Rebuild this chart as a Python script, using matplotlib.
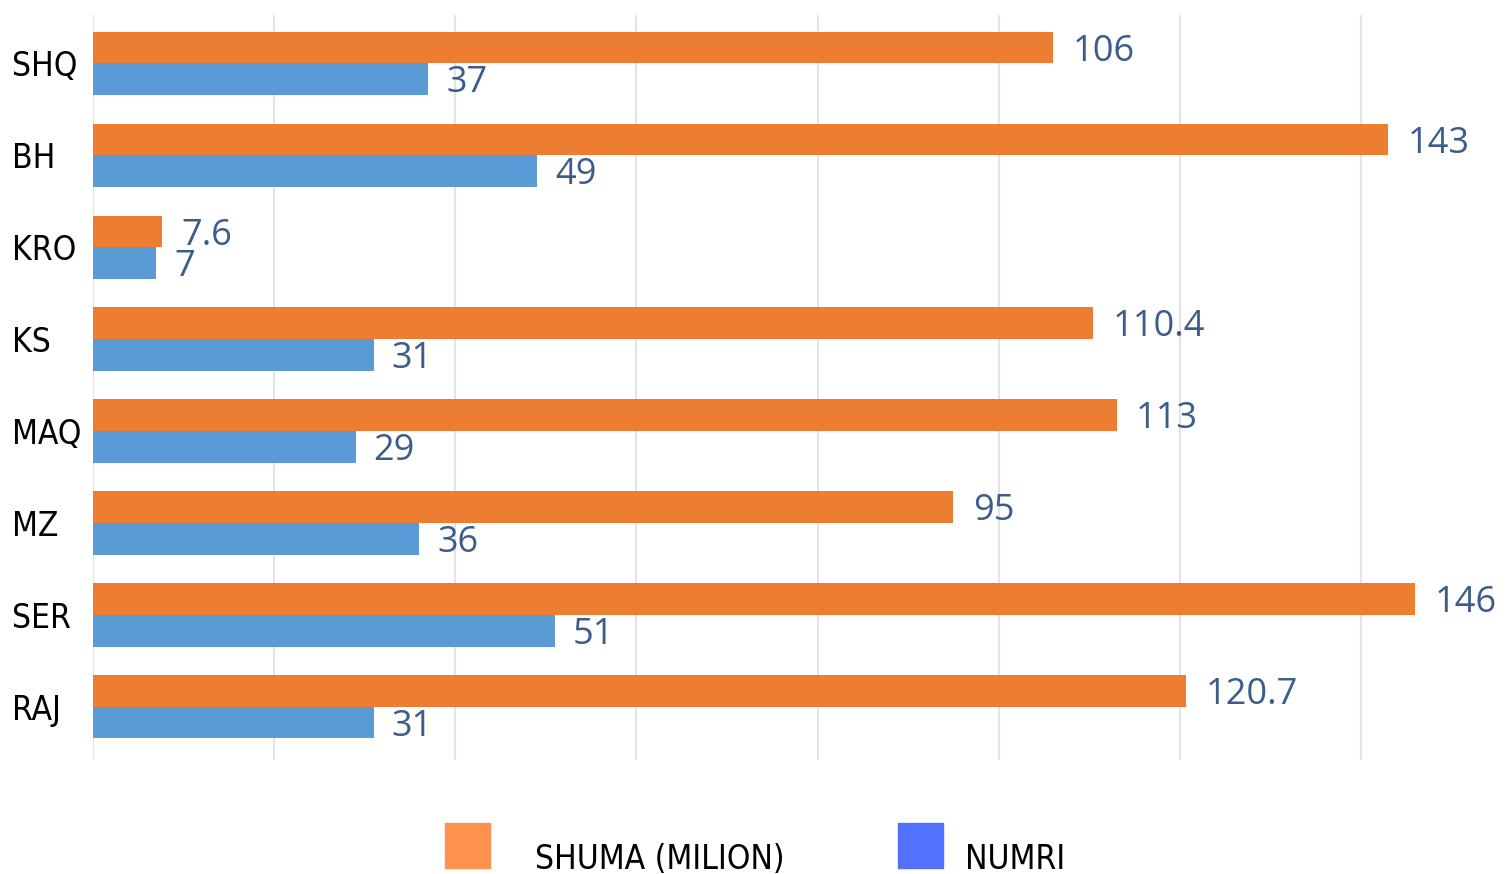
import numpy as np
import matplotlib.pyplot as plt
from matplotlib.patches import Rectangle

# data
regions = ['SHQ', 'BH', 'KRO', 'KS', 'MAQ', 'MZ', 'SER', 'RAJ']
shuma = [106, 143, 7.6, 110.4, 113, 95, 146, 120.7]
numri = [37, 49, 7, 31, 29, 36, 51, 31]
shuma_labels = ['106', '143', '7.6', '110.4', '113', '95', '146', '120.7']
numri_labels = ['37', '49', '7', '31', '29', '36', '51', '31']
legend_names = ['SHUMA (MILION)', 'NUMRI']

orange = '#ED7D31'
blue = '#5B9BD5'
lbl_color = '#3B5D8C'

W, H = 1506, 874
fig = plt.figure(figsize=(W / 100, H / 100), dpi=100)
ax = fig.add_axes([93 / W, 1 - 760 / H, 1 - 93 / W, 745 / H])

y = np.arange(len(regions))
h = 0.345
ax.barh(y - h / 2, shuma, height=h, color=orange)
ax.barh(y + h / 2, numri, height=h, color=blue)

# value labels
for yi, v, s in zip(y, shuma, shuma_labels):
    ax.annotate(s, (v, yi - h / 2), xytext=(14, -3), textcoords='offset points',
                va='center', ha='left', fontsize=26, color=lbl_color,
                family='Open Sans')
for yi, v, s in zip(y, numri, numri_labels):
    ax.annotate(s, (v, yi + h / 2), xytext=(13, -3), textcoords='offset points',
                va='center', ha='left', fontsize=26, color=lbl_color,
                family='Open Sans')

ax.set_xlim(0, 156)
ax.set_ylim(7.58, -0.527)
ax.set_xticks(np.arange(0, 141, 20))
ax.set_xticklabels([])
ax.set_yticks(y)
ax.set_yticklabels(regions, fontsize=24, family='DejaVu Sans', fontstretch='condensed',
                   ha='left', va='center_baseline')
ax.tick_params(axis='y', length=0, pad=58)
ax.tick_params(axis='x', length=0)
ax.grid(axis='x', color='#E3E3E8', linewidth=1.5)
ax.set_axisbelow(True)
for sp in ax.spines.values():
    sp.set_visible(False)

# legend below the plot, squares with the text sitting low beside them
leg_colors = ['#FF914D', '#5271FF']
sq_x = [445, 898]
txt_x = [535, 965]
for name, c, sx, tx in zip(legend_names, leg_colors, sq_x, txt_x):
    fig.add_artist(Rectangle((sx / W, 1 - 868 / H), 45 / W, 45 / H,
                             transform=fig.transFigure, color=c))
    fig.text(tx / W, 1 - 869 / H, name, fontsize=24, family='DejaVu Sans',
             fontstretch='condensed', va='baseline', ha='left')

fig.savefig('out.png', dpi=100)
